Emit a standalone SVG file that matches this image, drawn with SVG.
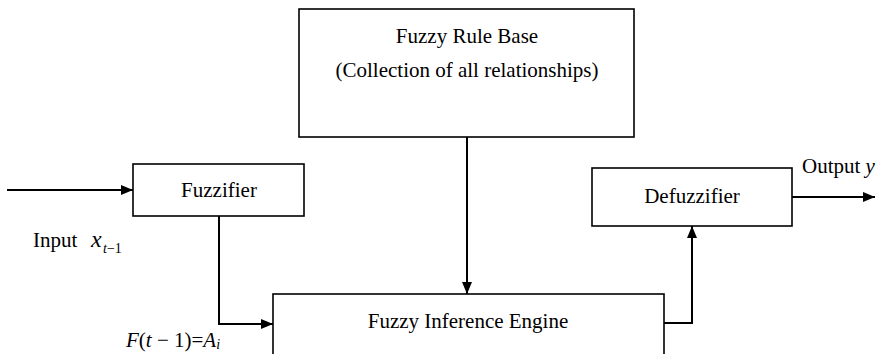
<svg xmlns="http://www.w3.org/2000/svg" width="876" height="354" viewBox="0 0 876 354">
<defs>
<marker id="ah" viewBox="0 0 12 10" refX="12" refY="5" markerWidth="12" markerHeight="10" markerUnits="userSpaceOnUse" orient="auto">
<path d="M0,0 L12,5 L0,10 z" fill="#000"/>
</marker>
<style>
.box{fill:#fff;stroke:#000;stroke-width:1.6}
.t{font-family:"Liberation Serif","Times New Roman",serif;font-size:21px;fill:#000}
.c{stroke:#000;stroke-width:2;fill:none}
.i{font-style:italic}
.sub{font-size:14px}
</style>
</defs>
<rect width="876" height="354" fill="#fff"/>
<g id="rulebase">
<rect class="box" x="299" y="9" width="335" height="128"/>
<text class="t" x="467" y="43" text-anchor="middle">Fuzzy Rule Base</text>
<text class="t" x="467" y="77" text-anchor="middle">(Collection of all relationships)</text>
</g>
<g id="fuzzifier">
<rect class="box" x="133" y="164" width="171" height="52"/>
<text class="t" x="219" y="197" text-anchor="middle">Fuzzifier</text>
</g>
<g id="defuzzifier">
<rect class="box" x="592" y="168" width="200" height="58"/>
<text class="t" x="692" y="203" text-anchor="middle">Defuzzifier</text>
</g>
<g id="engine">
<rect class="box" x="273" y="294" width="391" height="70"/>
<text class="t" x="468" y="328" text-anchor="middle">Fuzzy Inference Engine</text>
</g>
<g id="connectors">
<path class="c" d="M7,190 H133" marker-end="url(#ah)"/>
<path class="c" d="M219,216 V324 H273" marker-end="url(#ah)"/>
<path class="c" d="M467,137 V294" marker-end="url(#ah)"/>
<path class="c" d="M664,323 H692 V226" marker-end="url(#ah)"/>
<path class="c" d="M792,197 H875" marker-end="url(#ah)"/>
</g>
<g id="labels">
<text class="t" x="33" y="247">Input</text>
<text class="t i" x="91" y="247" style="font-size:24px">x</text>
<text class="t sub" x="103" y="253"><tspan class="i">t</tspan>−1</text>
<text class="t" x="126" y="347"><tspan class="i">F</tspan>(<tspan class="i">t</tspan> − 1)=<tspan class="i">A</tspan><tspan class="i sub" dy="2">i</tspan></text>
<text class="t" x="802" y="173">Output <tspan class="i">y</tspan></text>
</g>
</svg>
